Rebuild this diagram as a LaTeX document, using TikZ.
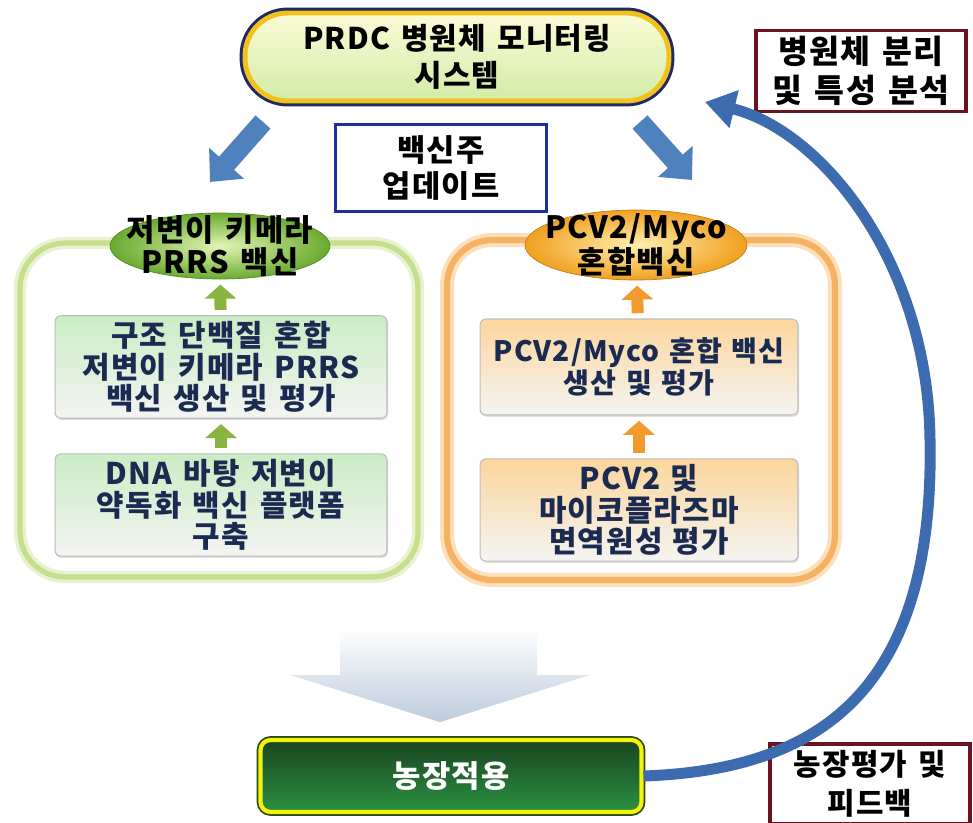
\documentclass[tikz,border=0pt]{standalone}
\usepackage{fontspec}
\newfontfamily\kr{Noto Sans CJK KR}[LetterSpace=4, WordSpace=1.4]
\usetikzlibrary{shapes.geometric,arrows.meta,shadows}
\definecolor{pillnavy}{HTML}{1F2A66}
\definecolor{pillgold}{HTML}{F2C21C}
\definecolor{pilltop}{HTML}{FBFBD6}
\definecolor{pillbot}{HTML}{D2ECA8}
\definecolor{isolred}{HTML}{6A1420}
\definecolor{updblue}{HTML}{1C2FA0}
\definecolor{arrowblue}{HTML}{4F81BD}
\definecolor{lframeline}{HTML}{C6DF8C}
\definecolor{lframeglow}{HTML}{E8F2D0}
\definecolor{rframeline}{HTML}{F4B262}
\definecolor{rframeglow}{HTML}{FCE0BC}
\definecolor{lellin}{HTML}{E2F5B4}
\definecolor{lellout}{HTML}{6AAA30}
\definecolor{rellin}{HTML}{FFF0B0}
\definecolor{rellout}{HTML}{F0A020}
\definecolor{lboxtop}{HTML}{C9EDC4}
\definecolor{rboxtop}{HTML}{FCD69C}
\definecolor{boxbot}{HTML}{F4F4F2}
\definecolor{boxgray}{HTML}{BDBDBD}
\definecolor{textnavy}{HTML}{1A2A50}
\definecolor{lup}{HTML}{8AB440}
\definecolor{rup}{HTML}{F29A2E}
\definecolor{grayblue}{HTML}{BCCBDD}
\definecolor{farmtop}{HTML}{1A4420}
\definecolor{farmbot}{HTML}{2B9142}
\definecolor{farmyellow}{HTML}{F2F20C}
\definecolor{farmedge}{HTML}{2D4A12}
\definecolor{feedblue}{HTML}{3C6BB0}
\tikzset{
  pill/.style={draw=pillgold, line width=2.8pt, rounded corners=0.85cm,
    minimum width=8.48cm, minimum height=1.76cm, top color=pilltop, bottom color=pillbot,
    preaction={draw=pillnavy, line width=6.2pt},
    align=center, font=\kr\bfseries\fontsize{17}{21}\selectfont},
  redbox/.style={draw=isolred, line width=2pt, fill=white, minimum width=4.2cm,
    minimum height=1.6cm, align=center, font=\kr\bfseries\fontsize{17}{22}\selectfont},
  bluebox/.style={draw=updblue, line width=1.8pt, fill=white, minimum width=4.22cm,
    minimum height=1.74cm, align=center, font=\kr\bfseries\fontsize{17.5}{20.5}\selectfont},
  bluearrow/.style={draw=arrowblue, line width=0.4cm, -{Triangle[width=0.9cm,length=0.5cm]}},
  lframe/.style={draw=lframeline, line width=3pt, rounded corners=0.9cm,
    minimum width=7.96cm, minimum height=6.68cm, preaction={draw=lframeglow, line width=7pt}},
  rframe/.style={draw=rframeline, line width=3.5pt, rounded corners=0.9cm,
    minimum width=7.76cm, minimum height=6.8cm, preaction={draw=rframeglow, line width=8pt}},
  lellipse/.style={ellipse, draw=lellout!80!black, line width=0.4pt, inner color=lellin,
    outer color=lellout, minimum width=4.4cm, minimum height=1.32cm},
  rellipse/.style={ellipse, draw=rellout!80!black, line width=0.4pt, inner color=rellin,
    outer color=rellout, minimum width=4.44cm, minimum height=1.4cm},
  elltext/.style={align=center, inner sep=0pt, font=\kr\bfseries\fontsize{17.5}{18.5}\selectfont},
  innerbox/.style={draw=boxgray, line width=0.6pt, rounded corners=0.12cm, bottom color=boxbot,
    align=center, text=textnavy, font=\kr\bfseries\fontsize{17}{17.8}\selectfont,
    drop shadow={opacity=0.25, shadow xshift=0.6pt, shadow yshift=-1pt}},
  lbox/.style={innerbox, top color=lboxtop, minimum width=6.64cm, minimum height=1.98cm},
  rbox/.style={innerbox, top color=rboxtop, minimum width=6.36cm, minimum height=1.92cm,
    text width=6cm},
  uparrow/.style={line width=0.24cm, -{Triangle[width=0.62cm,length=0.28cm]},
    shorten <=3pt, shorten >=3pt},
  farm/.style={draw=farmyellow, line width=2.4pt, rounded corners=0.2cm,
    top color=farmtop, bottom color=farmbot, preaction={draw=farmedge, line width=4.4pt},
    minimum width=7.62cm, minimum height=1.44cm, text=white,
    font=\kr\bfseries\fontsize{17.5}{20}\selectfont},
  feedarrow/.style={draw=feedblue, line width=0.22cm, -{Triangle[width=0.74cm,length=0.6cm]}}
}
\begin{document}
\begin{tikzpicture}[x=0.02cm,y=-0.02cm]
\useasboundingbox (0,0) rectangle (973,822);

\node[lframe] (lframe) at (219,410) {};
\node[rframe] (rframe) at (641,410) {};

\node[pill] (pill) at (457,57) {PRDC 병원체 모니터링\\시스템};
\node[redbox, font=\kr\bfseries\fontsize{18.5}{22}\selectfont] (isol) at (861,71) {병원체 분리\\및 특성 분석};
\node[bluebox] (upd) at (441,168) {백신주\\업데이트};

\coordinate (lfrom) at (263,122);
\coordinate (lto) at (210,182);
\coordinate (rfrom) at (640,122);
\coordinate (rto) at (692,180);
\draw[bluearrow] (lfrom) -- (lto);
\draw[bluearrow] (rfrom) -- (rto);

\node[lellipse] (lell) at (220,246) {};
\node[elltext] (lelltext) at (lell) {저변이 키메라\\PRRS 백신};
\node[rellipse] (rell) at (636,245) {};
\node[elltext] (relltext) at (rell) {PCV2/Myco\\혼합백신};

\node[lbox] (lbox1) at (221,367) {구조 단백질 혼합\\저변이 키메라 PRRS\\백신 생산 및 평가};
\node[lbox] (lbox2) at (221,505) {DNA 바탕 저변이\\약독화 백신 플랫폼\\구축};
\node[rbox, font=\kr\bfseries\fontsize{16}{17.8}\selectfont] (rbox1) at (639,367) {PCV2/Myco 혼합 백신\\생산 및 평가};
\node[rbox] (rbox2) at (639,510) {PCV2 및\\마이코플라즈마\\면역원성 평가};

\draw[uparrow, draw=lup] (lbox2) -- (lbox1);
\draw[uparrow, draw=lup] (lbox1) -- (lell);
\draw[uparrow, draw=rup] (rbox2) -- (rbox1);
\draw[uparrow, draw=rup] (rbox1) -- (rell);

\shade[top color=white, bottom color=grayblue]
  (340,628) -- (537,628) -- (537,675) -- (590,675) -- (440,722) -- (290,675) -- (340,675) -- cycle;

\node[farm] (farm) at (451,776) {농장적용};
\node[redbox, minimum width=4.0cm] (feed) at (870,784) {농장평가 및\\피드백};

\coordinate (fbtip) at (705,102);
\draw[feedarrow] (farm.east) .. controls (810,770) and (935,700) .. (930,440)
  .. controls (928,260) and (820,130) .. (fbtip);
\end{tikzpicture}
\end{document}
